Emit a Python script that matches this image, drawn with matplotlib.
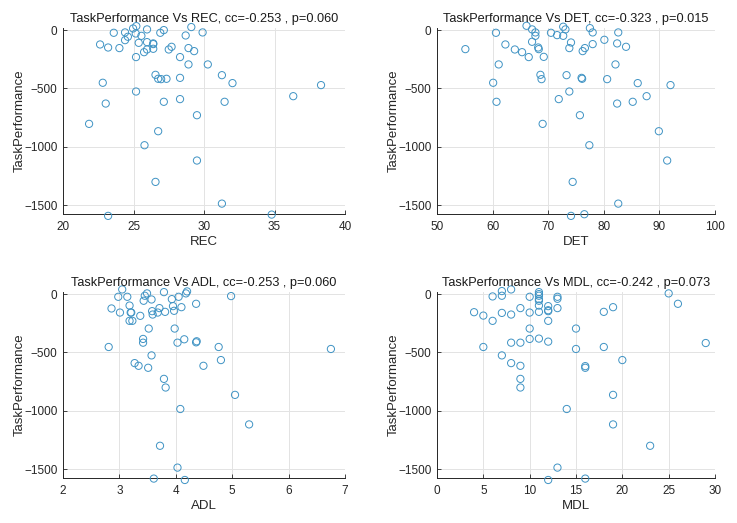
import matplotlib.pyplot as plt

plt.rcParams['font.family'] = ['Liberation Sans', 'DejaVu Sans']

# REC panel
rec_x = [25.2, 24.97, 29.1, 25.96, 27.15, 23.6, 24.4, 25.16, 26.9, 29.9,
         24.6, 25.56, 28.7, 24.4, 25.37, 25.96, 26.4, 26.4, 22.63, 23.2,
         24.0, 26.4, 25.96, 27.5, 27.7, 28.9, 29.3, 25.75, 25.18, 28.3,
         28.9, 30.27, 26.56, 26.75, 26.96, 27.34, 28.3, 31.27, 22.82, 32.02,
         38.3, 25.18, 36.33, 27.15, 28.3, 31.46, 23.03, 29.5, 21.85, 26.75,
         25.78, 29.5, 26.56, 31.27, 23.2, 34.8]
rec_y = [34, 14, 26, 6, 0, -23, -20, -29, -23, -20,
         -57, -49, -46, -86, -109, -103, -114, -120, -123, -149,
         -154, -160, -166, -166, -143, -154, -180, -189, -231, -231,
         -294, -294, -383, -417, -420, -417, -409, -386, -451, -454,
         -471, -526, -566, -614, -591, -614, -629, -729, -803, -866,
         -986, -1117, -1300, -1486, -1591, -1580]

# DET panel
det_x = [66.1, 67.1, 72.7, 73.1, 77.5, 60.6, 67.7, 67.7, 70.5, 71.6,
         72.7, 78.0, 82.6, 67.1, 80.1, 62.3, 74.1, 78.0, 82.4, 84.0,
         55.1, 64.0, 65.3, 66.5, 68.2, 68.3, 69.2, 73.8, 76.2, 76.6,
         61.1, 82.1, 68.6, 68.8, 73.3, 76.0, 76.1, 80.6, 60.1, 86.1,
         92.0, 73.8, 71.9, 87.7, 60.7, 85.2, 82.4, 75.7, 69.0, 89.9,
         77.4, 91.4, 74.4, 82.6, 74.1, 76.5]
det_y = [37, 6, 29, 6, 17, -23, -20, -49, -23, -43,
         -49, -20, -20, -100, -83, -123, -106, -120, -114, -143,
         -163, -166, -189, -231, -149, -163, -229, -154, -180, -154,
         -294, -294, -383, -420, -386, -409, -417, -420, -451, -454,
         -471, -526, -591, -566, -614, -614, -629, -729, -803, -866,
         -986, -1117, -1300, -1486, -1591, -1577]

# ADL panel
adl_x = [3.05, 2.98, 3.14, 3.49, 3.45, 3.43, 3.57, 3.79, 3.93, 4.05,
         4.18, 4.20, 4.98, 3.18, 2.86, 3.01, 3.20, 3.21, 3.18, 3.23,
         3.37, 3.58, 3.59, 3.68, 3.71, 3.81, 3.95, 3.97, 4.10, 4.36,
         3.52, 3.98, 3.42, 3.42, 4.03, 4.15, 4.36, 4.37, 2.81, 4.76,
         6.75, 3.57, 3.27, 3.34, 3.51, 4.49, 4.80, 3.79, 3.82, 5.05,
         4.08, 5.30, 3.72, 4.03, 3.61, 4.16]
adl_y = [40, -23, -23, 6, -14, -57, -46, 17, -43, -23,
         6, 23, -17, -98, -123, -158, -158, -158, -229, -229,
         -186, -146, -175, -158, -120, -152, -103, -143, -112, -83,
         -295, -295, -384, -416, -416, -387, -413, -404, -453, -453,
         -470, -525, -591, -614, -631, -614, -565, -726, -800, -863,
         -984, -1116, -1299, -1486, -1580, -1592]

# MDL panel
mdl_x = [8, 7, 6, 7, 10, 11, 11, 11, 11, 11,
         13, 13, 25, 26, 11, 12, 12, 12, 13, 9,
         4, 5, 7, 8, 10, 11, 6, 12, 18, 19,
         10, 15, 8, 9, 10, 11, 12, 5, 15, 18,
         29, 7, 8, 9, 16, 16, 20, 9, 9, 19,
         14, 19, 23, 13, 12, 16]
mdl_y = [40, 26, -20, -14, -23, 17, 0, -14, -43, -57,
         -23, -40, 6, -83, -98, -103, -138, -146, -120, -120,
         -155, -184, -161, -175, -158, -152, -229, -229, -152, -112,
         -295, -295, -416, -416, -384, -381, -407, -453, -470, -453,
         -419, -525, -591, -614, -617, -631, -565, -726, -800, -863,
         -984, -1116, -1299, -1486, -1592, -1580]

panels = [
    ('REC', rec_x, rec_y, (20, 40), [20, 25, 30, 35, 40], -0.253, 0.060),
    ('DET', det_x, det_y, (50, 100), [50, 60, 70, 80, 90, 100], -0.323, 0.015),
    ('ADL', adl_x, adl_y, (2, 7), [2, 3, 4, 5, 6, 7], -0.253, 0.060),
    ('MDL', mdl_x, mdl_y, (0, 30), [0, 5, 10, 15, 20, 25, 30], -0.242, 0.073),
]

W, H = 737, 523
fig = plt.figure(figsize=(W / 100, H / 100), dpi=100)

# axes boxes in pixels: left, right, top, bottom
boxes = [(63, 345, 28, 214), (437, 715, 28, 214),
         (63, 345, 292, 478), (437, 715, 292, 478)]

col = '#3f93c4'
for (name, xs, ys, xl, xt, cc, p), (l, r, t, b) in zip(panels, boxes):
    ax = fig.add_axes([l / W, 1 - b / H, (r - l) / W, (b - t) / H])
    ax.scatter(xs, ys, s=27, facecolors='none', edgecolors=col,
               linewidths=0.7, clip_on=False, zorder=3)
    ax.set_xlim(*xl)
    ax.set_ylim(-1575, 18)
    ax.set_xticks(xt)
    ax.set_yticks([-1500, -1000, -500, 0])
    ax.grid(True, color='#e3e3e3', linewidth=0.7)
    ax.set_axisbelow(True)
    for s in ['top', 'right']:
        ax.spines[s].set_visible(False)
    for s in ['left', 'bottom']:
        ax.spines[s].set_color('#262626')
        ax.spines[s].set_linewidth(0.7)
    ax.tick_params(direction='in', length=3, width=0.6, colors='#262626',
                   labelsize=8.5)
    ax.tick_params(axis='x', pad=5)
    ax.tick_params(axis='y', pad=4)
    ax.set_title(f'TaskPerformance Vs {name}, cc={cc:.3f} , p={p:.3f}',
                 fontsize=9.2, color='#1a1a1a', pad=4)
    ax.set_xlabel(name, fontsize=9.5, color='#262626', labelpad=2)
    ax.set_ylabel('TaskPerformance', fontsize=9.5, color='#262626')
    ax.yaxis.set_label_coords(-37 / (r - l), 0.5)

fig.savefig('out.png', dpi=100)
